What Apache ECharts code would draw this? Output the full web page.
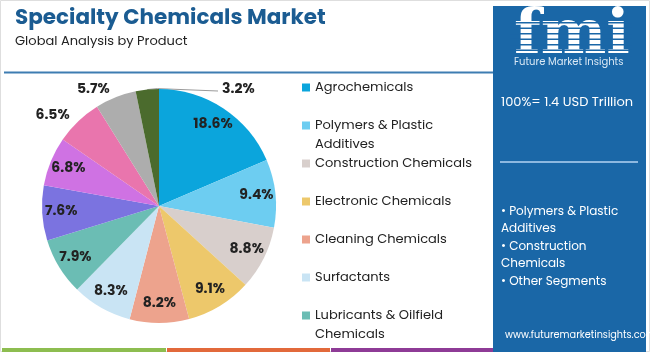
<!DOCTYPE html>
<html>
<head>
<meta charset="utf-8">
<script src="https://cdn.jsdelivr.net/npm/echarts@6/dist/echarts.min.js"></script>
<style>
  html, body { margin: 0; padding: 0; background: #fff; }
  #chart { width: 650px; height: 352px; }
</style>
</head>
<body>
<div id="chart"></div>
<script>
// ===================================================
//  DATOS
// ===================================================
const categories = [
    'Agrochemicals', 'Polymers & Plastic Additives', 'Construction Chemicals',
    'Electronic Chemicals', 'Cleaning Chemicals', 'Surfactants',
    'Lubricants & Oilfield Chemicals', 'Specialty Coatings', 'Water Treatment Chemicals',
    'Flavors & Fragrances', 'Textile Chemicals', 'Others'
];
const shares = [18.6, 9.4, 8.8, 9.1, 8.2, 8.3, 7.9, 7.6, 6.8, 6.5, 5.7, 3.2];
const sliceColors = [
    '#0ba5dc', '#6dcdf1', '#d8cfcc', '#edc86b', '#eda38d', '#c9e4f4',
    '#6bbdb4', '#7b73e0', '#cf72e3', '#e975ad', '#adadad', '#4b6b2d'
];
// solo las 7 primeras aparecen en la leyenda
const legendNames = categories.slice(0, 7);
const legendWrap = {
    'Polymers & Plastic Additives': 'Polymers & Plastic\nAdditives',
    'Lubricants & Oilfield Chemicals': 'Lubricants & Oilfield\nChemicals'
};
const outsideIdx = [9, 10, 11];
const panelBullets = ['• Polymers & Plastic', 'Additives', '• Construction', 'Chemicals', '• Other Segments'];

const FONT = 'Poppins, "Open Sans", sans-serif';

// ===================================================
//  GRÁFICO
// ===================================================
(function () {
    const el = document.getElementById('chart');
    const chart = echarts.init(el, null, { renderer: 'canvas' });

    const mainData = shares.map((v, i) => ({
        name: categories[i],
        value: v,
        itemStyle: { color: sliceColors[i] },
        label: { show: outsideIdx.includes(i) },
        labelLine: { show: i === 11 }
    }));

    const labelData = shares.map((v, i) => ({
        name: categories[i],
        value: v,
        label: { show: !outsideIdx.includes(i) }
    }));

    // una leyenda por elemento para imitar el espaciado fijo
    const legends = legendNames.map((name, i) => {
        const twoLines = !!legendWrap[name];
        return {
            orient: 'vertical',
            left: 297,
            top: 73 + i * 38,
            data: [{ name: name, itemStyle: { color: sliceColors[i], borderWidth: 0 } }],
            icon: twoLines ? 'path://M0,0H8V8H0Z M0,27H0.01V27.01H0Z' : 'rect',
            itemWidth: 8,
            itemHeight: twoLines ? 27 : 8,
            itemGap: 4,
            selectedMode: false,
            formatter: n => legendWrap[n] || n,
            textStyle: { fontFamily: FONT, fontSize: 13, color: '#222', lineHeight: 19 }
        };
    });

    const graphic = [
        // marco
        { type: 'rect', shape: { x: 0.5, y: 0.5, width: 649, height: 351 }, style: { fill: 'none', stroke: '#dedede', lineWidth: 1 }, z: 0 },
        // línea bajo el título
        { type: 'line', shape: { x1: 4, y1: 72.5, x2: 493, y2: 72.5 }, style: { stroke: '#3e7db2', lineWidth: 2 } },
        // franjas inferiores
        { type: 'rect', shape: { x: 2, y: 348, width: 164, height: 4 }, style: { fill: '#8dbd50' } },
        { type: 'rect', shape: { x: 167, y: 348, width: 163, height: 4 }, style: { fill: '#e2693b' } },
        { type: 'rect', shape: { x: 331, y: 348, width: 163, height: 4 }, style: { fill: '#8e3b96' } },
        // panel derecho
        { type: 'rect', shape: { x: 493, y: 6, width: 153, height: 346 }, style: { fill: '#1a67a7' } },
        { type: 'text', left: 514, top: 6, style: { text: 'fmi', fill: '#fff', font: 'bold 62px "DejaVu Serif", serif' } },
        { type: 'text', left: 514, top: 57, style: { text: 'Future Market Insights', fill: '#d9e8f5', font: '10px ' + FONT } },
        { type: 'text', left: 501, top: 96, style: { text: '100%= 1.4 USD Trillion', fill: '#fff', font: '13px ' + FONT } },
        { type: 'line', shape: { x1: 500, y1: 162, x2: 638, y2: 162 }, style: { stroke: '#8db8e0', lineWidth: 2 } },
        { type: 'text', left: 501, top: 203, style: { text: panelBullets.join('\n'), fill: '#fff', font: '12px ' + FONT, lineHeight: 17.5 } },
        { type: 'text', left: 505, top: 331, style: { text: 'www.futuremarketinsights.com', fill: '#fff', font: '9.7px ' + FONT } }
    ];
    // rayas horizontales sobre el logotipo
    for (let k = 0; k < 7; k++) {
        graphic.push({ type: 'rect', shape: { x: 510, y: 22 + k * 5.5, width: 122, height: 1.5 }, style: { fill: '#1a67a7' }, z: 110 });
    }

    const option = {
        backgroundColor: '#fff',
        animation: false,
        title: {
            text: 'Specialty Chemicals Market',
            subtext: 'Global Analysis by Product',
            left: 10,
            top: 3,
            itemGap: 5,
            textStyle: { fontFamily: FONT, fontSize: 21.5, fontWeight: 'bold', color: '#1b5c92' },
            subtextStyle: { fontFamily: FONT, fontSize: 13, color: '#222' }
        },
        legend: legends,
        graphic: graphic,
        series: [
            {
                type: 'pie',
                center: [159, 206],
                radius: [0, 117],
                startAngle: 90,
                avoidLabelOverlap: false,
                data: mainData,
                itemStyle: { borderWidth: 0 },
                emphasis: { disabled: true },
                label: {
                    position: 'outside',
                    formatter: '{c}%',
                    fontFamily: FONT,
                    fontSize: 14,
                    fontWeight: 'bold',
                    color: '#222',
                    distanceToLabelLine: 3
                },
                labelLine: { length: 8, length2: 0, lineStyle: { color: '#9a9a9a', width: 1 } },
                labelLayout: function (p) {
                    if (p.dataIndex === 11 && p.labelLinePoints) {
                        const s = p.labelLinePoints[0];
                        return {
                            x: 222, y: 89, align: 'left', verticalAlign: 'middle',
                            labelLinePoints: [s, [s[0] + 10, s[1] - 1], [218, 91]]
                        };
                    }
                }
            },
            {
                // capa transparente solo para situar las etiquetas interiores
                type: 'pie',
                center: [159, 206],
                radius: [0, 190],
                startAngle: 90,
                silent: true,
                data: labelData,
                itemStyle: { color: 'rgba(0,0,0,0)' },
                emphasis: { disabled: true },
                tooltip: { show: false },
                label: {
                    position: 'inside',
                    formatter: '{c}%',
                    fontFamily: FONT,
                    fontSize: 14,
                    fontWeight: 'bold',
                    color: '#222'
                },
                labelLine: { show: false }
            }
        ]
    };

    chart.setOption(option);
})();
</script>
</body>
</html>
